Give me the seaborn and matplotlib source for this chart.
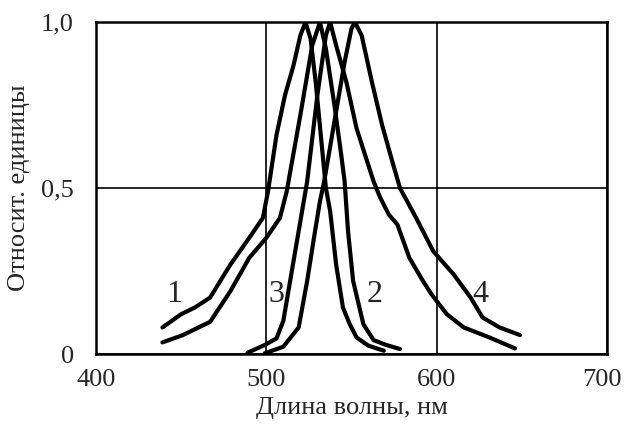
import numpy as np
import pandas as pd
import seaborn as sns
import matplotlib
matplotlib.use("Agg")
import matplotlib.pyplot as plt
import matplotlib.transforms as mtransforms

# curve 1 (peak ~523 nm)
wl_1 = [439, 450, 458, 467, 479, 490, 498, 501, 506, 511, 516, 520, 523, 526, 529, 532, 535, 537.5, 541, 545, 549, 553, 560, 569]
val_1 = [0.08, 0.12, 0.14, 0.17, 0.27, 0.35, 0.41, 0.49, 0.66, 0.78, 0.87, 0.96, 1.0, 0.95, 0.82, 0.66, 0.50, 0.43, 0.27, 0.14, 0.09, 0.05, 0.025, 0.01]

# curve 2 (peak ~531 nm)
wl_2 = [439, 451, 467, 479, 490, 500, 508, 512, 520, 527, 531.5, 535, 540, 544, 546, 548, 551, 557, 563, 570, 578.5]
val_2 = [0.035, 0.057, 0.097, 0.19, 0.29, 0.35, 0.41, 0.49, 0.72, 0.93, 1.0, 0.92, 0.75, 0.60, 0.52, 0.37, 0.22, 0.09, 0.042, 0.028, 0.015]

# curve 3 (peak ~537 nm)
wl_3 = [489, 499, 506, 510, 514, 518, 522, 524, 530, 535, 537.5, 541, 547, 553, 558, 563, 567, 572, 577, 584, 592, 597, 606, 616, 631, 646]
val_3 = [0.004, 0.027, 0.047, 0.10, 0.22, 0.34, 0.46, 0.52, 0.78, 0.96, 1.0, 0.93, 0.82, 0.68, 0.60, 0.52, 0.47, 0.42, 0.39, 0.29, 0.22, 0.18, 0.12, 0.08, 0.05, 0.017]

# curve 4 (peak ~552 nm)
wl_4 = [499, 510, 519, 524, 528, 531.5, 534, 540, 546, 550, 552, 556, 562, 568, 574, 578.5, 588, 598, 610, 620, 627, 637, 649]
val_4 = [0.002, 0.022, 0.08, 0.22, 0.35, 0.46, 0.52, 0.70, 0.88, 0.98, 1.0, 0.96, 0.82, 0.69, 0.58, 0.50, 0.41, 0.31, 0.24, 0.17, 0.11, 0.08, 0.057]

curve_names = ["1", "2", "3", "4"]
label_x = [446, 563.5, 506, 625.5]
label_y = [0.18, 0.18, 0.18, 0.18]

x_ticks = [400, 500, 600, 700]
y_ticks = [0, 0.5, 1.0]
y_tick_labels = ["0", "0,5", "1,0"]

frames = []
for name, wl, val in zip(curve_names, [wl_1, wl_2, wl_3, wl_4], [val_1, val_2, val_3, val_4]):
    frames.append(pd.DataFrame({"wl": wl, "val": val, "curve": name}))
df = pd.concat(frames, ignore_index=True)

sns.set_style("white")
plt.rcParams["font.family"] = ["Liberation Serif", "DejaVu Serif"]

fig = plt.figure(figsize=(6.25, 4.25), dpi=100)
ax = fig.add_axes([0.1536, 0.167, 0.8174, 0.781])

sns.lineplot(data=df, x="wl", y="val", hue="curve", units="curve", estimator=None, sort=False,
             palette=["black"] * 4, linewidth=3.0, legend=False, ax=ax)

for name, lx, ly in zip(curve_names, label_x, label_y):
    ax.text(lx, ly, name, fontsize=23, ha="center", va="center")

ax.set_xlim(400, 700)
ax.set_ylim(0, 1.0)
ax.set_xticks(x_ticks)
ax.set_yticks(y_ticks)
ax.set_yticklabels(y_tick_labels)
ax.tick_params(axis="x", length=0, pad=11, labelsize=19)
ax.tick_params(axis="y", length=0, pad=16, labelsize=19)
ax.grid(True, color="black", linewidth=1.2)
for s in ax.spines.values():
    s.set_color("black")
    s.set_linewidth(1.8)

# the last x tick label sits a little left of the frame edge
last = ax.get_xticklabels()[-1]
last.set_transform(last.get_transform() + mtransforms.ScaledTranslation(-0.05, 0, fig.dpi_scale_trans))

ax.set_xlabel("Длина волны, нм", fontsize=19, labelpad=4)
ax.set_ylabel("Относит. единицы", fontsize=19, labelpad=8)

fig.savefig("out.png", dpi=100)
